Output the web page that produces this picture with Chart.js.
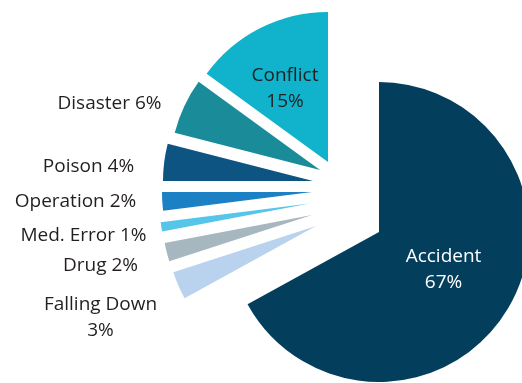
<!DOCTYPE html>
<html>
<head>
<meta charset="utf-8">
<script src="https://cdn.jsdelivr.net/npm/chart.js@4/dist/chart.umd.min.js"></script>
<style>
  html, body { margin: 0; padding: 0; background: #ffffff; overflow: hidden; }
  canvas { display: block; }
</style>
</head>
<body>
<canvas id="causes" width="522" height="383"></canvas>
<script>
// Causes and their share of the total, in percent
const categories = ['Accident', 'Falling Down', 'Drug', 'Med. Error', 'Operation', 'Poison', 'Disaster', 'Conflict'];
const shares = [67, 3, 2, 1, 2, 4, 6, 15];

// Slice fills
const sliceColors = ['#033f5c', '#b9d2ee', '#a7b7bf', '#55c6e9', '#1b80c4', '#0e5483', '#1a8b99', '#10b3cb'];

// How far each slice is pulled out from the pie centre (px)
const pullX = [0, -63, -67, -69.5, -67, -66, -59, -51];
const pullY = [0, -6, -17, -28.5, -40, -51, -62, -70];

// Label layout: two-line labels, text colour, centre x and first baseline
const labelTwoLines = [true, true, false, false, false, false, false, true];
const labelColors = ['#ffffff', '#231f20', '#231f20', '#231f20', '#231f20', '#231f20', '#231f20', '#231f20'];
const labelX = [443.5, 100.5, 100.5, 83.5, 75.5, 88.5, 109.5, 285];
const labelY = [262, 310, 271, 241, 207, 171.5, 109, 81];
const labelLineHeight = 26;

// Moves every arc by its pull after the controller lays the pie out
const pullPlugin = {
  id: 'pull',
  afterDatasetUpdate(chart, args) {
    args.meta.data.forEach((arc, i) => {
      arc.x += pullX[i];
      arc.y += pullY[i];
    });
  }
};

// Writes the category name and its share next to / inside each slice
const labelPlugin = {
  id: 'sliceLabels',
  afterDatasetsDraw(chart) {
    const ctx = chart.ctx;
    const values = chart.data.datasets[0].data;
    ctx.save();
    ctx.font = '19px "Open Sans", "Noto Sans", sans-serif';
    ctx.textAlign = 'center';
    ctx.textBaseline = 'alphabetic';
    chart.data.labels.forEach((name, i) => {
      const pct = values[i] + '%';
      const lines = labelTwoLines[i] ? [name, pct] : [name + ' ' + pct];
      ctx.fillStyle = labelColors[i];
      lines.forEach((t, k) => ctx.fillText(t, labelX[i], labelY[i] + k * labelLineHeight));
    });
    ctx.restore();
  }
};

new Chart(document.getElementById('causes'), {
  type: 'pie',
  data: {
    labels: categories,
    datasets: [{
      data: shares,
      backgroundColor: sliceColors,
      borderWidth: 0,
      radius: 150,
      clip: false
    }]
  },
  options: {
    responsive: false,
    animation: false,
    layout: { padding: { left: 236, right: 0, top: 89, bottom: 8 } },
    plugins: {
      legend: { display: false },
      tooltip: { enabled: false }
    }
  },
  plugins: [pullPlugin, labelPlugin]
});
</script>
</body>
</html>
